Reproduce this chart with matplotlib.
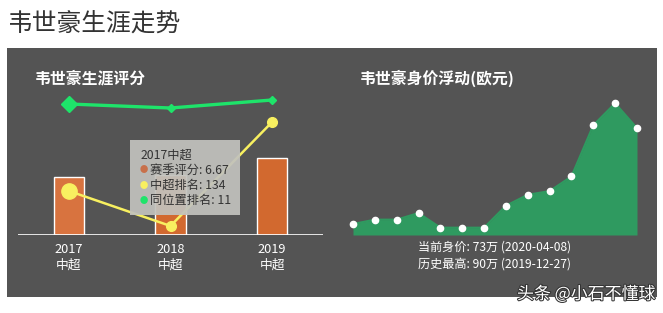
import matplotlib
matplotlib.use("Agg")
import matplotlib.pyplot as plt
import matplotlib.patheffects as pe
from matplotlib.patches import Rectangle

plt.rcParams["font.family"] = ["Noto Sans CJK SC", "DejaVu Sans"]

W, H = 663, 313

# career rating chart
seasons = ["2017\n中超", "2018\n中超", "2019\n中超"]
season_rating = [6.67, 6.95, 8.85]
league_rank = [134, 170, 63]
position_rank = [11, 12, 10]

# market value (万欧元)
market_value = [7.5, 10.5, 10.5, 15, 5, 5, 5, 20, 27.5, 30, 40, 75, 90, 73]

PANEL = "#545454"
ORANGE = "#d2692f"
YELLOW = "#f8f060"
GREEN = "#1ee46a"
AREA = "#2f9a60"


def px_box(x0, y0, x1, y1):
    return [x0 / W, 1 - y1 / H, (x1 - x0) / W, (y1 - y0) / H]


fig = plt.figure(figsize=(W / 100, H / 100), dpi=100)
fig.patch.set_facecolor("white")

fig.patches.append(Rectangle((7 / W, 1 - 297 / H), 650 / W, 249 / H,
                             transform=fig.transFigure, facecolor=PANEL,
                             edgecolor="none", zorder=-5))

fig.text(8 / W, 1 - 25 / H, "韦世豪生涯走势", fontsize=17.8, color="#333333",
         va="center", ha="left")
fig.text(35 / W, 1 - 78 / H, "韦世豪生涯评分", fontsize=11.4, color="white",
         fontweight="bold", va="center", ha="left")
fig.text(360 / W, 1 - 78 / H, "韦世豪身价浮动(欧元)", fontsize=11.4, color="white",
         fontweight="bold", va="center", ha="left")

# left: bars + two rank lines
ax = fig.add_axes(px_box(18, 90, 323, 235))
ax.patch.set_alpha(0)
x = list(range(len(seasons)))
bar_colors = ["#d8733f", ORANGE, ORANGE]
ax.bar(x, season_rating, width=0.3, color=bar_colors, edgecolor="white",
       linewidth=1, zorder=2)
ax.axhline(0, color="white", lw=1.2, zorder=3)
ax.set_xlim(-0.5, 2.5)
ax.set_ylim(0, 16.7)
ax.set_xticks(x)
ax.set_xticklabels(seasons, color="white", fontsize=9.2, linespacing=1.35,
                   fontweight="medium")
ax.tick_params(axis="x", length=0, pad=5.5)
ax.set_yticks([])
for s in ax.spines.values():
    s.set_visible(False)

ay = ax.twinx()
ay.set_ylim(179.3, 30.1)
ay.plot(x, league_rank, color=YELLOW, lw=1.8, zorder=4)
ay.plot(x[1:], league_rank[1:], "o", color=YELLOW, ms=7, zorder=5)
ay.plot(x[:1], league_rank[:1], "o", color=YELLOW, ms=11, zorder=5)
ay.axis("off")

ag = ax.twinx()
ag.set_ylim(43.75, 7.5)
ag.plot(x, position_rank, color=GREEN, lw=2.4, zorder=4)
ag.plot(x[1:], position_rank[1:], "D", color=GREEN, ms=4.5, zorder=5)
ag.plot(x[:1], position_rank[:1], "D", color=GREEN, ms=8, zorder=5)
ag.axis("off")

# tooltip
fig.patches.append(Rectangle((130 / W, 1 - 215 / H), 110 / W, 75 / H,
                             transform=fig.transFigure, facecolor="#c2c2bd",
                             edgecolor="none", alpha=0.93, zorder=10))
fig.text(141 / W, 1 - 155 / H, "2017中超", fontsize=8.8, color="#333333",
         va="center", zorder=11)
tip_rows = [("赛季评分: 6.67", "#c8704a"), ("中超排名: 134", YELLOW),
            ("同位置排名: 11", GREEN)]
for i, (label, c) in enumerate(tip_rows):
    yy = 1 - (170 + i * 15.3) / H
    fig.text(144 / W, yy, "●", fontsize=6, color=c, va="center", ha="center",
             zorder=11)
    fig.text(150 / W, yy, label, fontsize=8.8, color="#333333", va="center",
             zorder=11)

# right: market value area
ar = fig.add_axes(px_box(353, 90, 637, 235))
ar.patch.set_alpha(0)
idx = list(range(len(market_value)))
ar.fill_between(idx, market_value, 0, color=AREA, lw=0, zorder=2)
ar.plot(idx, market_value, color=AREA, lw=1.5, zorder=3)
ar.plot(idx, market_value, "o", color="white", ms=4.5, zorder=4, clip_on=False)
ar.set_xlim(0, len(market_value) - 1)
ar.set_ylim(0, 99.1)
ar.axis("off")

fig.text(495 / W, 1 - 247 / H, "当前身价: 73万 (2020-04-08)", fontsize=8.7,
         color="white", ha="center", va="center")
fig.text(495 / W, 1 - 264 / H, "历史最高: 90万 (2019-12-27)", fontsize=8.7,
         color="white", ha="center", va="center")

fig.text(655 / W, 1 - 294 / H, "头条 @小石不懂球", fontsize=12.2, color="white",
         ha="right", va="center", zorder=12,
         path_effects=[pe.withStroke(linewidth=1.5, foreground="#333333")])

fig.savefig("out.png", dpi=100)
